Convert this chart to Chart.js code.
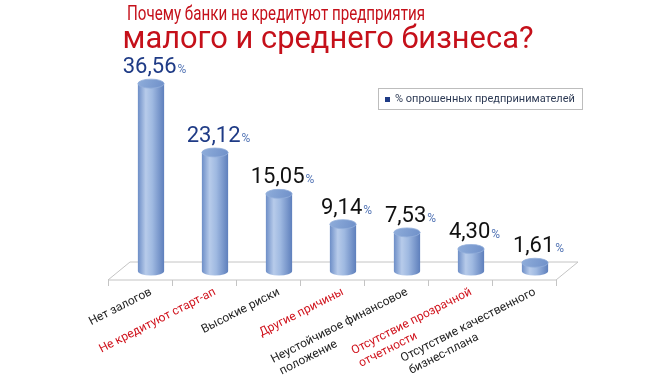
<!DOCTYPE html>
<html><head><meta charset="utf-8">
<script src="https://cdn.jsdelivr.net/npm/chart.js@4.4.1/dist/chart.umd.min.js"></script>
<style>html,body{margin:0;padding:0;background:#fff;}#wrap{width:655px;height:377px;position:relative;}</style>
</head><body><div id="wrap"><canvas id="c" width="655" height="377"></canvas></div>
<script>
// ---- data ----
const titleLines = ["Почему банки не кредитуют предприятия", "малого и среднего бизнеса?"];
const categories = [
  ["Нет залогов"],
  ["Не кредитуют старт-ап"],
  ["Высокие риски"],
  ["Другие причины"],
  ["Неустойчивое финансовое", "положение"],
  ["Отсутствие прозрачной", "отчетности"],
  ["Отсутствие качественного", "бизнес-плана"]
];
const redLabels = [false, true, false, true, false, true, false];
const values = [36.56, 23.12, 15.05, 9.14, 7.53, 4.30, 1.61];
const valueLabels = ["36,56", "23,12", "15,05", "9,14", "7,53", "4,30", "1,61"];
const seriesName = "% опрошенных предпринимателей";

// ---- styles ----
const FONT = "Roboto";
const TICK_SIZE = 12;
const BAR_PCT = 0.41;
const DEPTH_X = 11, DEPTH_Y = 9;

// left-align continuation lines of rotated (right-aligned) labels
const mctx = document.createElement('canvas').getContext('2d');
mctx.font = TICK_SIZE + "px " + FONT;
function padLines(lines) {
  if (lines.length < 2) return lines[0];
  const w0 = mctx.measureText(lines[0]).width;
  return lines.map((l, i) => {
    if (i === 0) return l;
    let s = l;
    while (mctx.measureText(s + ' ').width <= w0) s += ' ';
    return s;
  });
}
const labels = categories.map(padLines);

function barGradient(ctx, x, w) {
  const g = ctx.createLinearGradient(x - w / 2, 0, x + w / 2, 0);
  g.addColorStop(0, '#6d8ec7');
  g.addColorStop(0.3, '#b7cbea');
  g.addColorStop(0.55, '#9fb9e1');
  g.addColorStop(1, '#5e7fbc');
  return g;
}

function fitText(ctx, text, cx, y, size, targetW) {
  ctx.font = size + "px " + FONT;
  const w = ctx.measureText(text).width;
  ctx.save();
  ctx.translate(cx, y);
  ctx.scale(targetW / w, 1);
  ctx.fillText(text, 0, 0);
  ctx.restore();
}

const cylinderPlugin = {
  id: 'cylinder',
  beforeDatasetsDraw(chart) {
    const ctx = chart.ctx, xs = chart.scales.x, ys = chart.scales.y;
    const base = ys.getPixelForValue(0);
    const L = xs.left, R = xs.right;
    const front = base + DEPTH_Y, back = base - DEPTH_Y;
    ctx.save();
    ctx.beginPath();
    ctx.moveTo(L - DEPTH_X, front);
    ctx.lineTo(R - DEPTH_X, front);
    ctx.lineTo(R + DEPTH_X, back);
    ctx.lineTo(L + DEPTH_X, back);
    ctx.closePath();
    ctx.fillStyle = '#ffffff';
    ctx.fill();
    ctx.strokeStyle = '#c4c4c4';
    ctx.lineWidth = 1;
    ctx.stroke();
    const step = (R - L) / values.length;
    ctx.beginPath();
    for (let i = 0; i <= values.length; i++) {
      const x = Math.round(L - DEPTH_X + i * step) + 0.5;
      ctx.moveTo(x, front);
      ctx.lineTo(x, front + 6);
    }
    ctx.stroke();
    ctx.restore();
  },
  afterDatasetsDraw(chart) {
    const ctx = chart.ctx;
    const meta = chart.getDatasetMeta(0);
    const base = chart.scales.y.getPixelForValue(0);
    ctx.save();
    meta.data.forEach((el, i) => {
      const w = el.width, x = el.x, rx = w / 2, ry = 4.5;
      // bottom rounding
      ctx.beginPath();
      ctx.ellipse(x, base, rx, ry, 0, 0, Math.PI);
      ctx.fillStyle = barGradient(ctx, x, w);
      ctx.fill();
      // top cap
      ctx.beginPath();
      ctx.ellipse(x, el.y, rx, ry, 0, 0, Math.PI * 2);
      const g = ctx.createLinearGradient(x - rx, el.y - ry, x + rx, el.y + ry);
      g.addColorStop(0, '#8fadda');
      g.addColorStop(1, '#6f90c9');
      ctx.fillStyle = g;
      ctx.fill();
      ctx.strokeStyle = '#93aedb';
      ctx.lineWidth = 0.8;
      ctx.stroke();
      // value label
      const num = valueLabels[i];
      ctx.font = "22px " + FONT;
      const wn = ctx.measureText(num).width;
      ctx.font = "12px " + FONT;
      const wp = ctx.measureText('%').width;
      const sx = x + 3 - (wn + wp) / 2;
      const by = el.y - ry - 6;
      ctx.textAlign = 'left';
      ctx.textBaseline = 'alphabetic';
      ctx.font = "22px " + FONT;
      ctx.fillStyle = i < 2 ? '#1f3b86' : '#111111';
      ctx.fillText(num, sx, by);
      ctx.font = "12px " + FONT;
      ctx.fillStyle = '#5677b6';
      ctx.fillText('%', sx + wn + 1, by);
    });
    ctx.restore();
  },
  afterDraw(chart) {
    const ctx = chart.ctx;
    ctx.save();
    // title
    ctx.fillStyle = '#c5101a';
    ctx.textAlign = 'center';
    ctx.textBaseline = 'alphabetic';
    fitText(ctx, titleLines[0], 276, 20, 20, 298);
    fitText(ctx, titleLines[1], 328, 48, 31, 411);
    // legend
    ctx.fillStyle = '#ffffff';
    ctx.fillRect(378.5, 88.5, 204, 21);
    ctx.strokeStyle = '#bdbdbd';
    ctx.lineWidth = 1;
    ctx.strokeRect(378.5, 88.5, 204, 21);
    ctx.fillStyle = '#1f3b86';
    ctx.fillRect(385, 97, 5, 5);
    ctx.fillStyle = '#2e3b55';
    ctx.textAlign = 'left';
    ctx.textBaseline = 'middle';
    ctx.font = "11px " + FONT;
    ctx.fillText(seriesName, 395, 99.5);
    ctx.restore();
  }
};

new Chart(document.getElementById('c'), {
  type: 'bar',
  data: {
    labels: labels,
    datasets: [{
      label: seriesName,
      data: values,
      backgroundColor: (c) => {
        const ch = c.chart;
        if (!ch.chartArea || c.dataIndex === undefined) return '#8eaadb';
        const xs = ch.scales.x;
        const x = xs.getPixelForValue(c.dataIndex);
        const w = (xs.width / values.length) * BAR_PCT;
        return barGradient(ch.ctx, x, w);
      },
      borderWidth: 0,
      categoryPercentage: 1,
      barPercentage: BAR_PCT
    }]
  },
  options: {
    responsive: false,
    animation: false,
    devicePixelRatio: 1,
    layout: { padding: { left: 119, right: 88, top: 66, bottom: 0 } },
    plugins: { legend: { display: false }, title: { display: false }, tooltip: { enabled: false } },
    scales: {
      y: { display: false, min: 0, max: 40 },
      x: {
        grid: { display: false, drawTicks: false },
        border: { display: false },
        afterFit(scale) { scale.height = 106; },
        ticks: {
          autoSkip: false,
          minRotation: 27,
          maxRotation: 27,
          padding: 14,
          font: { family: FONT, size: TICK_SIZE },
          color: (c) => redLabels[c.index] ? '#d0121c' : '#222222'
        }
      }
    }
  },
  plugins: [cylinderPlugin]
});
</script>
</body></html>
